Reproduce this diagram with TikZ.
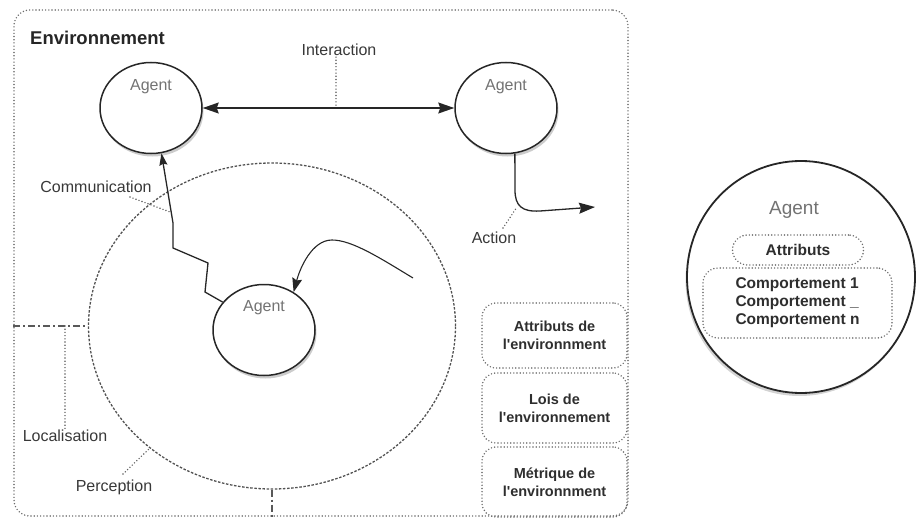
\documentclass[tikz,border=0pt]{standalone}
\usepackage{fontspec}
\setmainfont{Liberation Sans}
\usetikzlibrary{arrows.meta,shapes.geometric,shadows,calc}
\begin{document}
\begin{tikzpicture}[x=1pt,y=-1pt,
  agent/.style={ellipse, draw=black!85, line width=1.5pt, fill=white,
    minimum width=102pt, minimum height=91pt, inner sep=0pt,
    drop shadow={shadow xshift=1.5pt, shadow yshift=-3pt, opacity=0.4}},
  agenttxt/.style={text=black!55, font=\fontsize{16}{19}\selectfont, inner sep=0pt},
  lbl/.style={text=black!78, font=\fontsize{16}{19}\selectfont, inner sep=1pt},
  dotline/.style={draw=black!62, line width=1.6pt, dash pattern=on 0pt off 3.2pt, line cap=round},
  envbox/.style={rectangle, rounded corners=16pt, draw=black!58, line width=1.6pt,
    dash pattern=on 0pt off 3.2pt, line cap=round, inner sep=0pt},
  percline/.style={draw=black!68, line width=1.3pt, dash pattern=on 2.5pt off 1.6pt},
  locline/.style={draw=black!65, line width=1.3pt, dash pattern=on 7pt off 3pt on 2pt off 3pt},
  flow/.style={draw=black!85, line width=1.3pt},
  tipbig/.style={-{Stealth[length=16pt,width=11pt,inset=2pt]}},
  tipsmall/.style={-{Stealth[length=12pt,width=8pt,inset=1.5pt]}},
  propbox/.style={rectangle, rounded corners=14pt, draw=black!58, line width=1.6pt,
    dash pattern=on 0pt off 3.2pt, line cap=round, minimum width=145pt, align=center,
    text=black!82, font=\bfseries\fontsize{14.5}{18}\selectfont, inner sep=0pt},
  inbox/.style={rectangle, rounded corners=15pt, draw=black!58, line width=1.6pt,
    dash pattern=on 0pt off 3.2pt, line cap=round, text=black!82,
    font=\bfseries\fontsize{15.5}{18}\selectfont, inner sep=0pt}
]
\useasboundingbox (0,0) rectangle (918,519);

% environment
\node[envbox, minimum width=614pt, minimum height=506pt] (env) at (321,263) {};
\node[anchor=west, text=black!85, font=\bfseries\fontsize{18.5}{22}\selectfont, inner sep=0pt]
  (envlbl) at (30,38) {Environnement};

% perception field
\node[ellipse, percline, minimum width=367pt, minimum height=326pt, inner sep=0pt] (perc) at (272,326) {};

% agents
\node[agent] (a1) at (151,108) {};
\node[agenttxt] (a1t) at (151,87) {Agent};
\node[agent] (a2) at (506,108) {};
\node[agenttxt] (a2t) at (506,87) {Agent};
\node[agent] (a3) at (264,330) {};
\node[agenttxt] (a3t) at (264,308) {Agent};

% interaction
\draw[flow, {Stealth[length=16pt,width=11pt,inset=2pt]}-{Stealth[length=16pt,width=11pt,inset=2pt]}] (a1.east) -- (a2.west);
\node[lbl] (inter) at (339,50) {Interaction};
\coordinate (ia) at (336,108);
\draw[dotline] (inter.south -| ia) -- (ia);

% communication
\draw[flow, tipsmall] (a3.146) -- (205,292) -- (208,263) -- (173,248) -- (173,223) -- (a1.283);
\node[lbl] (comm) at (96,187) {Communication};
\coordinate (cm) at (170,212);
\draw[dotline] (130,197) -- (cm);

% perception towards agent 3
\coordinate (pstart) at (413,278);
\draw[flow, line width=1.1pt, {Stealth[length=14pt,width=10pt,inset=2pt]}-] (a3.52) .. controls (300,268) and (312,240) .. (332,240)
  .. controls (352,240) and (380,258) .. (pstart);

% action
\coordinate (actend) at (595,207);
\draw[flow, tipbig] (a2.281) -- (515,190) .. controls (515,206) and (522,212) .. (540,211) -- (actend);
\node[lbl] (act) at (494,238) {Action};
\coordinate (ac) at (517,207);
\draw[dotline] (503,228) -- (ac);

% localisation
\coordinate (lj) at (65,326);
\draw[locline] (perc.west -| env.west) -- (perc.west);
\node[lbl] (loc) at (65,436) {Localisation};
\draw[dotline] (lj) -- (loc.north);

% perception label
\node[lbl] (perclbl) at (114,487) {Perception};
\draw[dotline] (123,474) -- (perc.225);

% bottom link
\draw[locline] (perc.south) -- (perc.south |- env.south);

% environment properties
\node[propbox, minimum height=65pt] (p1) at (554.5,335.5) {Attributs de\\l\textquotesingle environnment};
\node[propbox, minimum height=70pt] (p2) at (554.5,408) {Lois de\\l\textquotesingle environnement};
\node[propbox, minimum height=70pt] (p3) at (554.5,482) {Métrique de\\l\textquotesingle environnment};

% agent detail
\node[ellipse, draw=black!85, line width=1.8pt, fill=white, minimum width=228pt, minimum height=232pt,
  inner sep=0pt, drop shadow={shadow xshift=-1.5pt, shadow yshift=-3pt, opacity=0.35}] (big) at (801,277) {};
\node[text=black!55, font=\fontsize{19}{22}\selectfont, inner sep=0pt] (bigt) at (794,210) {Agent};
\node[inbox, minimum width=131pt, minimum height=30pt] (attr) at (798,250) {Attributs};
\node[inbox, minimum width=189pt, minimum height=70pt, align=left] (comp) at (797.5,303)
  {Comportement 1\\Comportement \_\\Comportement n};
\end{tikzpicture}
\end{document}
